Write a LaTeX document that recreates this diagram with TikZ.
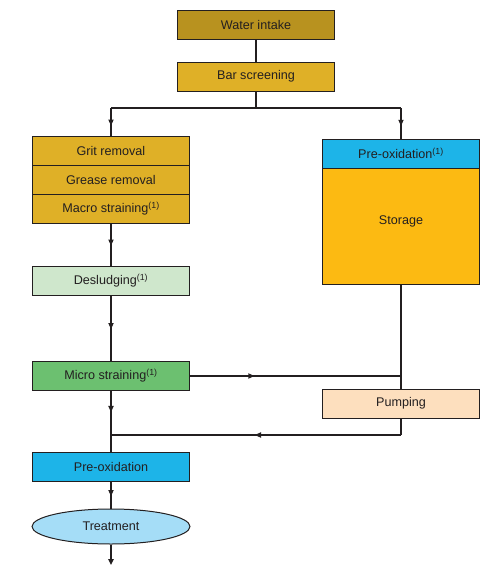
\documentclass[tikz,border=0pt]{standalone}
\usepackage{fontspec}
\setmainfont{Liberation Sans}
\usetikzlibrary{arrows.meta,decorations.markings,shapes.geometric}
\definecolor{ink}{HTML}{231F20}
\definecolor{cWater}{HTML}{B8921F}
\definecolor{cBar}{HTML}{DFB027}
\definecolor{cStore}{HTML}{FCBA12}
\definecolor{cBlue}{HTML}{1DB4E8}
\definecolor{cDes}{HTML}{CFE7CC}
\definecolor{cMicro}{HTML}{6CC070}
\definecolor{cPump}{HTML}{FDDFBE}
\definecolor{cTreat}{HTML}{A5DDF7}
\tikzset{
  box/.style={draw=ink, line width=1pt, minimum width=157pt, minimum height=29pt, inner sep=0pt, text=ink,
    font=\fontsize{12.6}{14}\selectfont},
  conn/.style={draw=ink, line width=1.8pt},
  tip/.style={-{Triangle[length=6pt,width=5.5pt]}},
  midarr/.style={postaction={decorate}, decoration={markings, mark=at position #1 with {\fill[ink] (1pt,0) -- (-5pt,2.8pt) -- (-5pt,-2.8pt) -- cycle;}}}
}
\newcommand{\ftn}{\textsuperscript{(1)}}
\begin{document}
\begin{tikzpicture}[x=1pt,y=1pt]
\useasboundingbox (0,0) rectangle (493,-566);
\node[box, fill=cWater] (water) at (256,-24.5) {Water intake};
\node[box, fill=cBar] (bar) at (256,-76.5) {Bar screening};
\node[box, fill=cBar] (grit) at (111,-150.5) {Grit removal};
\node[box, fill=cBar] (grease) at (111,-179.5) {Grease removal};
\node[box, fill=cBar] (macro) at (111,-208.5) {Macro straining\ftn};
\node[box, fill=cBlue] (preoxA) at (401,-153.5) {Pre-oxidation\ftn};
\node[box, fill=cStore, minimum height=116pt] (storage) at (401,-226) {\raisebox{11pt}{Storage}};
\node[box, fill=cDes] (desl) at (111,-280.5) {Desludging\ftn};
\node[box, fill=cMicro] (micro) at (111,-375.5) {Micro straining\ftn};
\node[box, fill=cPump] (pump) at (401,-403.5) {Pumping};
\node[box, fill=cBlue] (preoxB) at (111,-466.5) {Pre-oxidation};
\node[box, ellipse, fill=cTreat, minimum height=35pt, minimum width=158pt] (treat) at (111,-526.5) {Treatment};
\coordinate (jS) at (256,-108);
\coordinate (jL) at (111,-108);
\coordinate (jR) at (401,-108);
\coordinate (jM) at (401,-376);
\coordinate (jP) at (401,-435);
\coordinate (jB) at (111,-435);
\coordinate (endT) at (111,-565);
% connectors
\draw[conn] (water) -- (bar);
\draw[conn] (bar.south) -- (jS);
\draw[conn] (jL) -- (jR);
\draw[conn, midarr=0.6] (jL) -- (grit.north);
\draw[conn, midarr=0.55] (jR) -- (preoxA.north);
\draw[conn, midarr=0.5] (macro.south) -- (desl.north);
\draw[conn, midarr=0.5] (desl.south) -- (micro.north);
\draw[conn] (storage.south) -- (pump.north);
\draw[conn, midarr=0.3] (micro.east |- jM) -- (jM);
\draw[conn] (pump.south) -- (jP);
\draw[conn, midarr=0.5] (jP) -- (jB);
\draw[conn, midarr=0.46] (micro.south) -- (jB);
\draw[conn] (jB) -- (preoxB.north);
\draw[conn, midarr=0.5] (preoxB.south) -- (treat.north);
\draw[conn, tip] (treat.south) -- (endT);
\end{tikzpicture}
\end{document}
